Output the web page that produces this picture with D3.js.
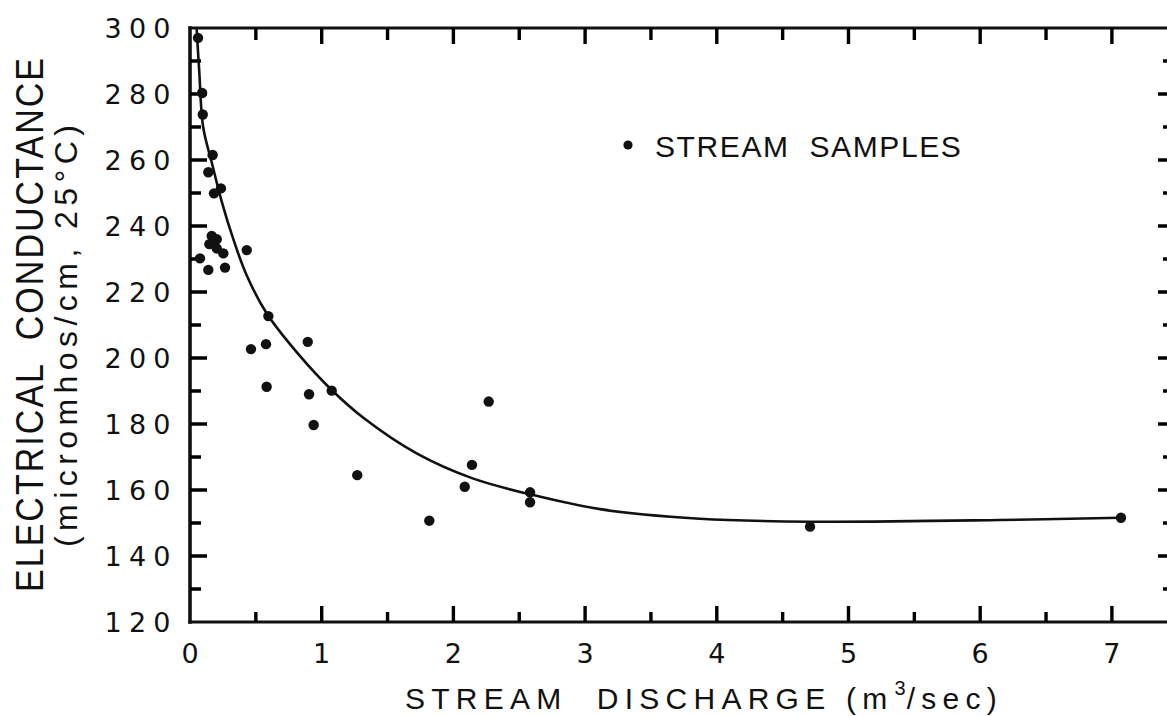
<!DOCTYPE html>
<html><head><meta charset="utf-8">
<script src="https://cdn.jsdelivr.net/npm/d3@7/dist/d3.min.js"></script>
<style>
html,body{margin:0;padding:0;background:#fff;}
svg{display:block;}
text{font-family:"Liberation Sans", Arial, sans-serif; fill:#111;}
</style></head><body>
<svg id="chart" width="1167" height="716"></svg>
<script>
// ---- data ----
const discharge   = [0.061, 0.092, 0.097, 0.172, 0.139, 0.235, 0.182, 0.165, 0.147, 0.203, 0.253, 0.431, 0.076, 0.139, 0.266, 0.203,
                     0.595, 0.463, 0.577, 0.894, 0.582, 0.904, 1.076, 0.939, 1.270, 1.817, 2.086, 2.141, 2.268, 2.582, 2.582, 4.708, 7.069];
const conductance = [297.0, 280.3, 273.8, 261.5, 256.3, 251.4, 249.9, 237.0, 234.5, 233.2, 231.7, 232.7, 230.2, 226.7, 227.4, 236.0,
                     212.7, 202.7, 204.2, 204.9, 191.3, 189.0, 190.1, 179.7, 164.5, 150.7, 161.0, 167.6, 186.8, 159.3, 156.3, 148.9, 151.6];
// fitted curve
const curveDischarge   = [0.050, 0.070, 0.100, 0.170, 0.241, 0.329, 0.431, 0.583, 0.810, 1.076, 1.316, 1.721, 2.141, 2.582, 3.113, 3.872, 4.708, 6.150, 7.069];
const curveConductance = [300.0, 287.0, 270.0, 258.5, 247.4, 236.0, 225.0, 213.5, 201.8, 190.3, 181.9, 171.1, 163.6, 158.7, 154.2, 151.3, 150.4, 150.9, 151.6];

const xMajorTicks = [0, 1, 2, 3, 4, 5, 6, 7];
const xMinorTicks = [0.5, 1.5, 2.5, 3.5, 4.5, 5.5, 6.5];
const xTickLabels = ["0", "1", "2", "3", "4", "5", "6", "7"];
const yMajorTicks = [120, 140, 160, 180, 200, 220, 240, 260, 280, 300];
const yMinorTicks = [130, 150, 170, 190, 210, 230, 250, 270, 290];
const yTickLabels = ["120", "140", "160", "180", "200", "220", "240", "260", "280", "300"];

const xTitleParts = ["STREAM  DISCHARGE (m", "3", "/sec)"];
const yTitle1 = "ELECTRICAL  CONDUCTANCE";
const yTitle2 = "(micromhos/cm, 25°C)";
const legendLabel = "STREAM  SAMPLES";

// ---- layout ----
const svg = d3.select("#chart");
const x = d3.scaleLinear().domain([0, 7.42]).range([190, 1167.2]);
const y = d3.scaleLinear().domain([120, 300]).range([622, 28]);
const xRight = 1170;
const ink = "#111";

// frame lines
const frame = svg.append("g");
function fl(x1, y1, x2, y2, w) {
  frame.append("line").attr("x1", x1).attr("y1", y1).attr("x2", x2).attr("y2", y2)
    .attr("stroke", ink).attr("stroke-width", w).attr("stroke-linecap", "square");
}
fl(x(0), y(120), xRight, y(120), 3.2);
fl(x(0), y(300), xRight, y(300), 3.2);
fl(x(0), y(300), x(0), y(120), 3.6);
fl(xRight, y(300), xRight, y(120), 3);

// ticks as one path through the scales
function tickPath(ctx, vals, horizontal, pos0, len) {
  vals.forEach(d => {
    if (horizontal) { ctx.push(`M${pos0},${y(d)}H${pos0 + len}`); }
    else { ctx.push(`M${x(d)},${pos0}V${pos0 + len}`); }
  });
}
const segs = [];
tickPath(segs, xMajorTicks.slice(1), false, y(120), -16);
tickPath(segs, xMinorTicks, false, y(120), -10);
tickPath(segs, xMajorTicks.slice(1), false, y(300), 16);
tickPath(segs, xMinorTicks, false, y(300), 12);
tickPath(segs, yMajorTicks.slice(1, -1), true, x(0), 17);
tickPath(segs, yMinorTicks, true, x(0), 11);
tickPath(segs, yMajorTicks.slice(1, -1), true, xRight, -12);
tickPath(segs, yMinorTicks, true, xRight, -7);
svg.append("path").attr("d", segs.join(""))
  .attr("fill", "none").attr("stroke", "#000").attr("stroke-width", 3.4);

// tick labels
svg.append("g").selectAll("text").data(yMajorTicks).join("text")
  .attr("x", 137.5).attr("y", d => y(d) + 10)
  .attr("text-anchor", "middle")
  .style("font-family", "'DejaVu Sans', sans-serif")
  .attr("font-size", 27)
  .attr("textLength", 66).attr("lengthAdjust", "spacing")
  .text((d, i) => yTickLabels[i]);

svg.append("g").selectAll("text").data(xMajorTicks).join("text")
  .attr("x", d => x(d)).attr("y", 663)
  .attr("text-anchor", "middle")
  .style("font-family", "'DejaVu Sans', sans-serif")
  .attr("font-size", 27)
  .text((d, i) => xTickLabels[i]);

// x axis title: three pieces laid out to span the reference width
const xtStart = 405, xtEnd = 1003, xtBase = 709;
const pMain = svg.append("text").attr("y", xtBase).attr("font-size", 30).style("white-space", "pre").text(xTitleParts[0]);
const pSup  = svg.append("text").attr("y", xtBase - 14).attr("font-size", 20).text(xTitleParts[1]);
const pEnd  = svg.append("text").attr("y", xtBase).attr("font-size", 30).text(xTitleParts[2]);
const wMain = pMain.node().getComputedTextLength();
const wSup = pSup.node().getComputedTextLength();
const wEnd = pEnd.node().getComputedTextLength();
const nGaps = xTitleParts[0].length + xTitleParts[2].length;
const ls = (xtEnd - xtStart - wMain - wEnd - wSup - 2) / nGaps;
pMain.style("letter-spacing", ls + "px").attr("x", xtStart);
const afterMain = xtStart + wMain + ls * xTitleParts[0].length;
pSup.attr("x", afterMain + 1);
pEnd.style("letter-spacing", ls + "px").attr("x", afterMain + 1 + wSup + 1);

// y axis titles
svg.append("text")
  .attr("transform", "translate(43,325) rotate(-90) scale(1,1.13)")
  .attr("text-anchor", "middle").attr("font-size", 34)
  .style("white-space", "pre")
  .attr("textLength", 534).attr("lengthAdjust", "spacing")
  .text(yTitle1);

svg.append("text")
  .attr("transform", "translate(77,336) rotate(-90)")
  .attr("text-anchor", "middle").attr("font-size", 32)
  .attr("textLength", 422).attr("lengthAdjust", "spacing")
  .text(yTitle2);

// curve
const pts = curveDischarge.map((d, i) => [d, curveConductance[i]]);
svg.append("path").datum(pts)
  .attr("fill", "none").attr("stroke", ink).attr("stroke-width", 2.6)
  .attr("d", d3.line().x(d => x(d[0])).y(d => y(d[1])).curve(d3.curveCatmullRom.alpha(0.5)));

// points
svg.append("g").selectAll("circle").data(discharge).join("circle")
  .attr("cx", d => x(d)).attr("cy", (d, i) => y(conductance[i]))
  .attr("r", 5.2).attr("fill", ink);

// legend
svg.append("circle").attr("cx", 628).attr("cy", 145).attr("r", 4.6).attr("fill", ink);
svg.append("text").attr("x", 655).attr("y", 157).attr("font-size", 30)
  .style("white-space", "pre").style("letter-spacing", "1.6px")
  .text(legendLabel);
</script>
</body></html>
